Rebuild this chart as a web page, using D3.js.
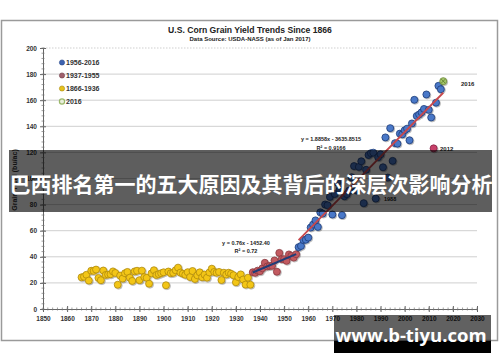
<!DOCTYPE html>
<html><head><meta charset="utf-8">
<script src="https://cdn.jsdelivr.net/npm/d3@7/dist/d3.min.js"></script>
<style>body{margin:0;background:#fff}svg{display:block}</style>
</head><body><svg id="c" width="500" height="362"></svg>
<script>
const yearsEarly = d3.range(1866, 1937);
const yieldEarly = [24.3,24.7,26.2,21.8,29.3,29.2,30.2,23.8,22.1,29.5,26.1,26.4,26.6,28.8,27.6,18.6,25.6,23.3,27.4,28.4,24.0,21.5,28.8,29.3,22.1,29.4,24.5,23.9,19.4,27.3,29.7,26.0,26.7,27.4,28.1,18.2,28.7,27.4,27.7,29.7,31.7,27.9,27.1,26.2,28.2,24.5,29.1,23.0,25.8,28.1,24.3,26.4,24.0,28.0,30.9,28.4,27.8,28.4,22.2,27.8,26.4,27.8,27.0,25.9,20.5,24.4,26.5,22.6,18.7,24.0,18.6];
const yearsMid = d3.range(1937, 1956);
const yieldMid = [28.2,27.7,29.4,28.9,31.2,35.4,32.6,33.0,33.1,37.2,28.6,43.0,38.2,38.2,36.9,41.8,40.7,39.4,42.0];
const yearsModern = d3.range(1956, 2016);
const yieldModern = [47.4,48.3,52.8,53.1,54.7,62.4,64.7,67.9,62.9,74.1,73.1,80.1,79.5,85.9,72.4,88.1,97.0,91.3,71.9,86.4,88.0,90.8,101.0,109.5,91.0,108.9,113.2,81.1,106.7,118.0,119.4,119.8,84.6,116.3,118.5,108.6,131.5,100.7,138.6,113.5,127.1,126.7,134.4,133.8,136.9,138.2,129.3,142.2,160.3,147.9,149.1,150.7,153.3,164.4,152.6,146.8,123.1,158.1,171.0,168.4];
const year2016 = 2016, yield2016 = 174.6;
const year2012 = 2012, yield2012 = 123.1;
const year1988 = 1988, yield1988 = 84.6;
const trendMidLabel = ["y = 0.76x - 1452.40", "R² = 0.72"];
const trendModernLabel = ["y = 1.8858x - 3635.8515", "R² = 0.9166"];
const legendItems = ["1956-2016","1937-1955","1866-1936","2016"];
const xTicks = d3.range(1850, 2031, 10);
const yTicks = d3.range(0, 201, 20);
const titleText = "U.S. Corn Grain Yield Trends Since 1866";
const subtitleText = "Data Source: USDA-NASS (as of Jan 2017)";
const yLabel = "Grain Yield (bu/ac)";
const bannerText = "巴西排名第一的五大原因及其背后的深层次影响分析";
const watermark = "www.b-tiyu.com";

const svg = d3.select("#c");
const x = d3.scaleLinear().domain([1850, 2030]).range([43, 477]);
const y = d3.scaleLinear().domain([0, 200]).range([309, 48]);
const F = "'Liberation Sans', Arial, sans-serif";

const defs = svg.append("defs");
const f = defs.append("filter").attr("id","sh").attr("x","-50%").attr("y","-50%").attr("width","200%").attr("height","200%");
f.append("feDropShadow").attr("dx",0.8).attr("dy",0.8).attr("stdDeviation",0.7).attr("flood-color","#000").attr("flood-opacity",0.35);

// frame
svg.append("rect").attr("x",1.5).attr("y",20.5).attr("width",496).attr("height",320)
  .attr("fill","#fff").attr("stroke","#9a9a9a").attr("stroke-width",1.5);

// title
svg.append("text").attr("x",250).attr("y",32.5).attr("text-anchor","middle")
  .attr("font-family",F).attr("font-weight","bold").attr("font-size",8.6).attr("fill","#222").text(titleText);
svg.append("text").attr("x",250).attr("y",40.5).attr("text-anchor","middle")
  .attr("font-family",F).attr("font-weight","bold").attr("font-size",6).attr("fill","#222").text(subtitleText);

// grid
svg.append("g").selectAll("line").data(yTicks.filter(d=>d>0)).join("line")
  .attr("x1",x(1850)).attr("x2",x(2030)).attr("y1",d=>y(d)).attr("y2",d=>y(d))
  .attr("stroke","#cfcfcf").attr("stroke-width",1)
  .attr("stroke-dasharray",d=>d===200?"1.5,1.5":null);

// y axis
const ya = d3.axisLeft(y).tickValues(yTicks).tickSize(3).tickFormat(d3.format("d"));
const gy = svg.append("g").attr("transform",`translate(${x(1850)},0)`).call(ya);
gy.select(".domain").attr("stroke","#666");
gy.selectAll(".tick line").attr("stroke","#666").attr("x2",-3).attr("x1",3);
gy.selectAll("text").attr("font-family",F).attr("font-weight","bold").attr("font-size",6.5).attr("fill","#333").attr("x",-6);
svg.append("g").selectAll("line").data(d3.range(0,201,4)).join("line")
  .attr("x1",x(1850)-1.5).attr("x2",x(1850)+1.5).attr("y1",d=>y(d)).attr("y2",d=>y(d)).attr("stroke","#777").attr("stroke-width",0.7);

// x axis
const xa = d3.axisBottom(x).tickValues(xTicks).tickSize(3).tickFormat(d3.format("d"));
const gx = svg.append("g").attr("transform",`translate(0,${y(0)})`).call(xa);
gx.select(".domain").attr("stroke","#666");
gx.selectAll(".tick line").attr("stroke","#666").attr("y1",-3).attr("y2",3);
gx.selectAll("text").attr("font-family",F).attr("font-weight","bold").attr("font-size",6.5).attr("fill","#333").attr("y",7);
svg.append("g").selectAll("line").data(d3.range(1850,2031,2)).join("line")
  .attr("x1",d=>x(d)).attr("x2",d=>x(d)).attr("y1",y(0)-1.5).attr("y2",y(0)+1.5).attr("stroke","#777").attr("stroke-width",0.7);

svg.append("text").attr("transform",`translate(16.5,180) rotate(-90)`).attr("text-anchor","middle")
  .attr("font-family",F).attr("font-weight","bold").attr("font-size",7).attr("fill","#333").text(yLabel);

// points
function pts(years, vals, fill, stroke){
  svg.append("g").attr("filter","url(#sh)").selectAll("circle").data(years.map((yr,i)=>[yr,vals[i]])).join("circle")
    .attr("cx",d=>x(d[0])).attr("cy",d=>y(d[1])).attr("r",3.5)
    .attr("fill",fill).attr("stroke",stroke).attr("stroke-width",0.8);
}
pts(yearsEarly, yieldEarly, "#f3c614", "#b08a10");
pts(yearsMid, yieldMid, "#c25a60", "#8a3a40");
const modernNo2012 = yearsModern.filter(d=>d!==2012);
pts(modernNo2012, modernNo2012.map(d=>yieldModern[yearsModern.indexOf(d)]), "#4a78c8", "#1d3c78");

// least-squares trend lines
function fit(xs, ys){
  const mx = d3.mean(xs), my = d3.mean(ys);
  const s = d3.sum(xs.map((v,i)=>(v-mx)*(ys[i]-my))) / d3.sum(xs.map(v=>(v-mx)*(v-mx)));
  return {s, b: my - s*mx, from: d3.min(xs), to: d3.max(xs)};
}
function trend(t, color, w){
  svg.append("line").attr("x1",x(t.from)).attr("x2",x(t.to))
    .attr("y1",y(t.s*t.from+t.b)).attr("y2",y(t.s*t.to+t.b))
    .attr("stroke",color).attr("stroke-width",w);
}
trend(fit(yearsMid, yieldMid), "#1f3d78", 2);
trend(fit(yearsModern.concat([year2016]), yieldModern.concat([yield2016])), "#c8484c", 1.8);

// special points
svg.append("circle").attr("filter","url(#sh)").attr("cx",x(year2012)).attr("cy",y(yield2012)).attr("r",3.5)
  .attr("fill","#c8406a").attr("stroke","#8a2548").attr("stroke-width",0.8);
svg.append("circle").attr("filter","url(#sh)").attr("cx",x(year2016)).attr("cy",y(yield2016)).attr("r",3.5)
  .attr("fill","#a3c46a").attr("stroke","#6d8a3a").attr("stroke-width",0.8);
svg.append("path").attr("d",`M${x(year2016)-2},${y(yield2016)-2}L${x(year2016)+2},${y(yield2016)+2}M${x(year2016)+2},${y(yield2016)-2}L${x(year2016)-2},${y(yield2016)+2}`)
  .attr("stroke","#5a7a2a").attr("stroke-width",0.8);

// annotations
const ann = (tx,ty,t,anchor,fs)=>svg.append("text").attr("x",tx).attr("y",ty).attr("text-anchor",anchor||"start")
  .attr("font-family",F).attr("font-weight","bold").attr("font-size",fs||6).attr("fill","#222").text(t);
ann(461, 86, "2016");
ann(440, 150.5, "2012");
ann(384, 201, "1988", "start", 5.5);
ann(331, 141, trendModernLabel[0], "middle", 5.5);
ann(331, 149.5, trendModernLabel[1], "middle", 5.5);
ann(246, 245, trendMidLabel[0], "middle", 5.5);
ann(246, 253, trendMidLabel[1], "middle", 5.5);

// legend
const legColors = [["#3d62b0","#2a4a8a"],["#a0606c","#70404a"],["#e6c21c","#a88a10"],["#e8eedc","#9ab86a"]];
const lg = svg.append("g");
legendItems.forEach((t,i)=>{
  const ly = 62.5 + i*13;
  lg.append("circle").attr("cx",62).attr("cy",ly).attr("r",2.6).attr("fill",legColors[i][0]).attr("stroke",legColors[i][1]).attr("stroke-width",i===3?1.2:0.6);
  lg.append("text").attr("x",66).attr("y",ly+2.4).attr("font-family",F).attr("font-weight","bold").attr("font-size",7).attr("fill","#333").text(t);
});

// banner overlay
svg.append("rect").attr("x",9).attr("y",150).attr("width",483).attr("height",62).attr("fill","rgba(0,0,0,0.63)");
svg.append("text").attr("x",251).attr("y",183).attr("dominant-baseline","central").attr("text-anchor","middle")
  .attr("font-family","'Noto Sans CJK SC', sans-serif").attr("font-weight","bold").attr("font-size",21)
  .attr("fill","#fff").text(bannerText);

// watermark
svg.append("rect").attr("x",334).attr("y",315).attr("width",157).attr("height",26).attr("fill","rgba(0,0,0,0.62)");
svg.append("rect").attr("x",334).attr("y",341).attr("width",157).attr("height",12).attr("fill","#000");
svg.append("text").attr("x",411).attr("y",342).attr("text-anchor","middle")
  .attr("font-family","'Open Sans', sans-serif").attr("font-weight","bold").attr("font-size",18.5)
  .attr("fill","#fff").text(watermark);
</script></body></html>
